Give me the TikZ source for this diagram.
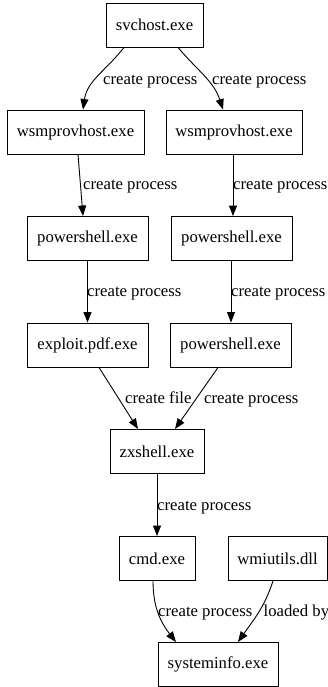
\documentclass[tikz,border=0pt]{standalone}
\usepackage{fontspec}
\setmainfont{Liberation Serif}
\usetikzlibrary{arrows.meta}
\begin{document}
\begin{tikzpicture}[x=1pt,y=-1pt,
  font=\fontsize{16.7}{20}\selectfont,
  proc/.style={draw,line width=0.9pt,minimum height=44pt,inner sep=0pt,anchor=center},
  lbl/.style={anchor=base west,inner sep=0pt},
  edge/.style={line width=0.9pt,-{Triangle[length=10.5pt,width=8pt]}}]
\useasboundingbox (0,0) rectangle (328,687);

% process nodes
\node[proc,minimum width=97pt]  (sv)   at (154.5,25)   {svchost.exe};
\node[proc,minimum width=137pt] (wsmL) at (75.5,132)   {wsmprovhost.exe};
\node[proc,minimum width=136pt] (wsmR) at (234,132)    {wsmprovhost.exe};
\node[proc,minimum width=121pt] (psL)  at (87.5,238.5) {powershell.exe};
\node[proc,minimum width=121pt] (psR)  at (231.5,238.5){powershell.exe};
\node[proc,minimum width=121pt] (ex)   at (87.5,345)   {exploit.pdf.exe};
\node[proc,minimum width=121pt] (psR2) at (230.5,345)  {powershell.exe};
\node[proc,minimum width=94pt]  (zx)   at (157,451.5)  {zxshell.exe};
\node[proc,minimum width=76pt]  (cmd)  at (157,558.5)  {cmd.exe};
\node[proc,minimum width=99pt]  (wmi)  at (277.5,558.5){wmiutils.dll};
\node[proc,minimum width=120pt] (sys)  at (218,664.5)  {systeminfo.exe};

% edge labels (placed by baseline)
\node[lbl] (l1)  at (103,84.5)  {create process};
\node[lbl] (l2)  at (212,84.5)  {create process};
\node[lbl] (l3)  at (83,189.5)  {create process};
\node[lbl] (l4)  at (233,189.5) {create process};
\node[lbl] (l5)  at (87,296.5)  {create process};
\node[lbl] (l6)  at (231,296.5) {create process};
\node[lbl] (l7)  at (125,403.5) {create file};
\node[lbl] (l8)  at (204,403.5) {create process};
\node[lbl] (l9)  at (157,510.5) {create process};
\node[lbl] (l10) at (158,616.5) {create process};
\node[lbl] (l11) at (263.5,616.5) {loaded by};

% connectors
\draw[edge] ([xshift=-30.5pt]sv.south) to[out=-128,in=82] ([xshift=7.5pt]wsmL.north);
\draw[edge] ([xshift=23.5pt]sv.south) to[out=-50,in=108] ([xshift=-11pt]wsmR.north);
\draw[edge] ([xshift=2.5pt]wsmL.south) -- ([xshift=-4.5pt]psL.north);
\draw[edge] ([xshift=-1pt]wsmR.south) -- ([xshift=1.5pt]psR.north);
\draw[edge] (psL) -- (ex);
\draw[edge] ([xshift=-0.5pt]psR.south) -- ([xshift=0.5pt]psR2.north);
\draw[edge] ([xshift=11.5pt]ex.south) -- ([xshift=-19pt]zx.north);
\draw[edge] ([xshift=-12.5pt]psR2.south) -- ([xshift=18pt]zx.north);
\draw[edge] (zx) -- (cmd);
\draw[edge] ([xshift=-4pt]cmd.south) to[out=-90,in=128] ([xshift=-42pt]sys.north);
\draw[edge] ([xshift=-4.5pt]wmi.south) to[out=-108,in=55] ([xshift=20pt]sys.north);
\end{tikzpicture}
\end{document}
